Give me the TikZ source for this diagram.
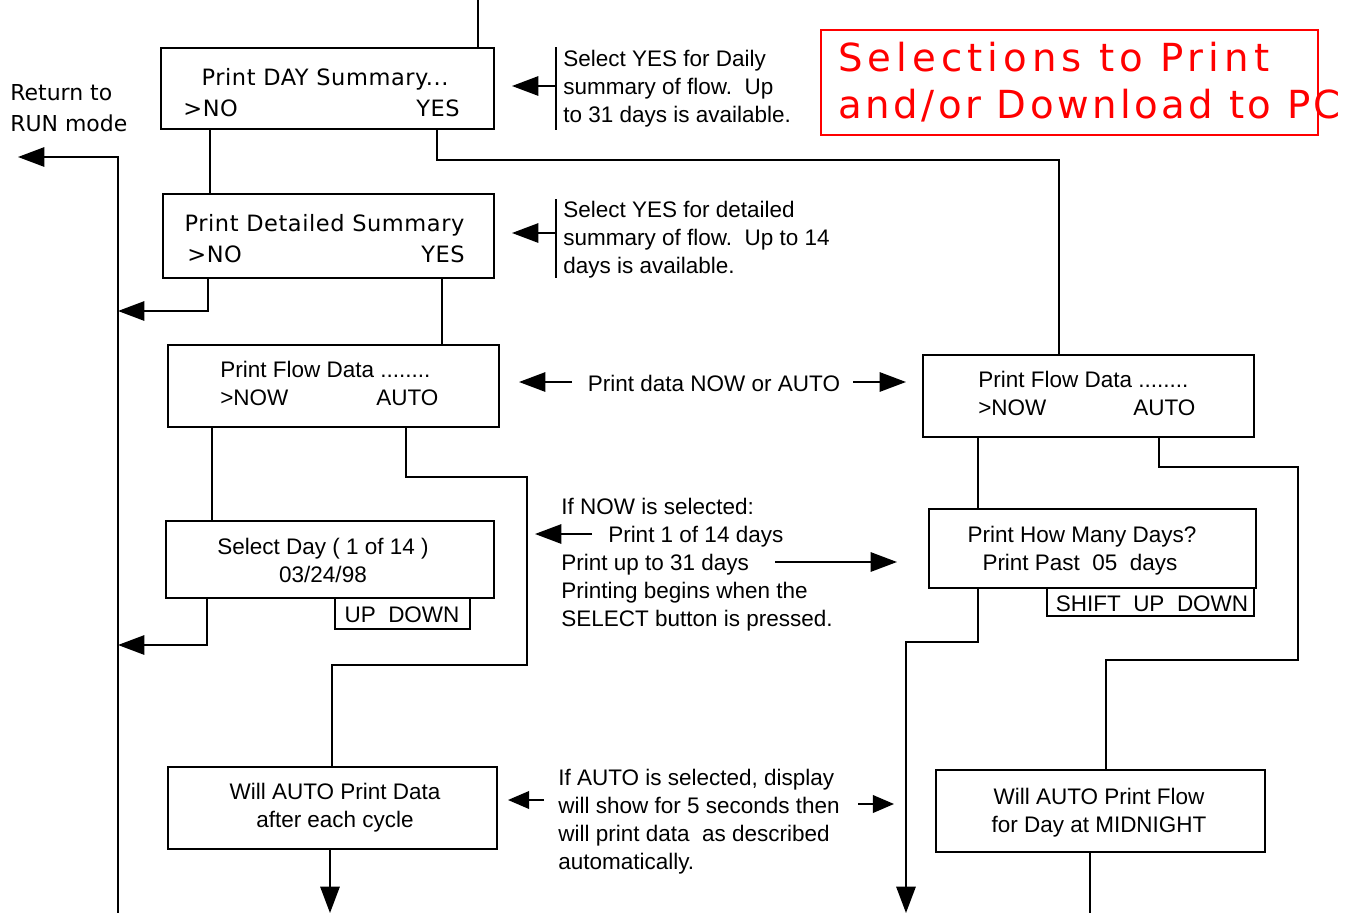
\documentclass[tikz,border=0pt]{standalone}
\usepackage{fontspec}
\usetikzlibrary{arrows.meta}
\newfontfamily\verfont[LetterSpace=2.5]{DejaVu Sans}
\newfontfamily\retfont{DejaVu Sans}
\newfontfamily\arifont{Liberation Sans}
\newfontfamily\redfontA[LetterSpace=13]{DejaVu Sans}
\newfontfamily\redfontB[LetterSpace=9]{DejaVu Sans}
\begin{document}
\begin{tikzpicture}[x=0.02cm,y=-0.02cm,
  box/.style={draw, line width=1.1pt, inner sep=0pt, anchor=center},
  con/.style={line width=1.1pt},
  arr/.style={con, -{Triangle[length=15pt,width=11pt]}},
  sarr/.style={con, -{Triangle[length=12pt,width=10pt]}},
  brk/.style={line width=0.6pt},
  vt/.style={font={\verfont\fontsize{12.8}{16}\selectfont}, inner sep=0pt},
  atxt/.style={font={\arifont\fontsize{12.8}{15.9}\selectfont}, inner sep=0pt},
  note/.style={atxt, align=left, anchor=north west},
  redtxt/.style={anchor=base west, inner sep=0pt, text=red}]
\useasboundingbox (0,0) rectangle (1350,913);

% boxes
\node[box, minimum width=6.66cm, minimum height=1.62cm] (b1) at (327.5,88.5) {};
\node[box, minimum width=6.62cm, minimum height=1.68cm] (b2) at (328.5,236) {};
\node[box, minimum width=6.62cm, minimum height=1.64cm] (b3) at (333.5,386) {};
\node[box, minimum width=6.56cm, minimum height=1.54cm] (b4) at (330,559.5) {};
\node[box, minimum width=2.70cm, minimum height=0.62cm] (b4s) at (402.5,613.5) {};
\node[box, minimum width=6.58cm, minimum height=1.64cm] (b5) at (332.5,808) {};
\node[box, minimum width=6.62cm, minimum height=1.64cm] (b6) at (1088.5,396) {};
\node[box, minimum width=6.54cm, minimum height=1.58cm] (b7) at (1092.5,548.5) {};
\node[box, minimum width=4.14cm, minimum height=0.56cm] (b7s) at (1150.5,602) {};
\node[box, minimum width=6.58cm, minimum height=1.64cm] (b8) at (1100.5,811) {};
\node[draw=red, line width=1.3pt, minimum width=9.94cm, minimum height=2.1cm, inner sep=0pt] (red) at (1069.5,82.5) {};

% box texts
\node[vt, anchor=base] (b1t) at (325,85) {Print DAY Summary...};
\node[vt, anchor=base west] (b1no) at (183,116) {>NO};
\node[vt, anchor=base east] (b1yes) at (460,116) {YES};
\node[vt, anchor=base] (b2t) at (324.5,231) {Print Detailed Summary};
\node[vt, anchor=base west] (b2no) at (187,262) {>NO};
\node[vt, anchor=base east] (b2yes) at (465,262) {YES};
\node[atxt, anchor=base west] (b3t) at (220,377) {Print Flow Data ........};
\node[atxt, anchor=base west] (b3now) at (220,405) {>NOW};
\node[atxt, anchor=base west] (b3auto) at (376,405) {AUTO};
\node[atxt, anchor=base] (b4t) at (323,554) {Select Day ( 1 of 14 )};
\node[atxt, anchor=base] (b4d) at (323,582) {03/24/98};
\node[atxt, anchor=base] (b4k) at (402,622) {UP\ \ DOWN};
\node[atxt, anchor=base] (b5t) at (335,799) {Will AUTO Print Data};
\node[atxt, anchor=base] (b5u) at (335,827) {after each cycle};
\node[atxt, anchor=base west] (b6t) at (978,387) {Print Flow Data ........};
\node[atxt, anchor=base west] (b6now) at (978,415) {>NOW};
\node[atxt, anchor=base west] (b6auto) at (1133,415) {AUTO};
\node[atxt, anchor=base] (b7t) at (1082,542) {Print How Many Days?};
\node[atxt, anchor=base] (b7u) at (1080,570) {Print Past\ \ 05\ \ days};
\node[atxt, anchor=base] (b7k) at (1152,611) {SHIFT\ \ UP\ \ DOWN};
\node[atxt, anchor=base] (b8t) at (1099,804) {Will AUTO Print Flow};
\node[atxt, anchor=base] (b8u) at (1099,832) {for Day at MIDNIGHT};

% title and notes
\node[redtxt, font={\redfontA\fontsize{22}{27}\selectfont}] (title1) at (838,71) {Selections to Print};
\node[redtxt, font={\redfontB\fontsize{22}{27}\selectfont}] (title2) at (838,118) {and/or Download to PC};
\node[align=left, anchor=north west, inner sep=0pt, font={\retfont\fontsize{12.5}{17.6}\selectfont}] (ret) at (10,84) {Return to\\RUN mode};
\node[note] (n1) at (563,50) {Select YES for Daily\\summary of flow.\ \ Up\\to 31 days is available.};
\node[note] (n2) at (563,201) {Select YES for detailed\\summary of flow.\ \ Up to 14\\days is available.};
\node[atxt, anchor=base] (n3) at (714,391) {Print data NOW or AUTO};
\node[note] (n4) at (561,498) {If NOW is selected:\\\hspace*{26.7pt}Print 1 of 14 days\\Print up to 31 days\\Printing begins when the\\SELECT button is pressed.};
\node[note] (n5) at (558,769) {If AUTO is selected, display\\will show for 5 seconds then\\will print data\ \ as described\\automatically.};

% coordinates
\coordinate (top) at (478,0);
\coordinate (retend) at (18,157);
\coordinate (retcorner) at (118,157);
\coordinate (retbot) at (118,913);
\coordinate (x210) at (210,0);
\coordinate (x437) at (437,0);
\coordinate (t1) at (1059,160);
\coordinate (x208) at (208,0);
\coordinate (j1) at (118,311);
\coordinate (x442) at (442,0);
\coordinate (x212) at (212,0);
\coordinate (x406) at (406,0);
\coordinate (c2) at (527,477);
\coordinate (c3) at (332,665);
\coordinate (x207) at (207,0);
\coordinate (j2) at (118,645);
\coordinate (d1) at (330,913);
\coordinate (x978) at (978,0);
\coordinate (x1159) at (1159,0);
\coordinate (c4) at (1298,467);
\coordinate (c5) at (1106,660);
\coordinate (c6) at (906,642);
\coordinate (d2) at (906,913);
\coordinate (d3) at (1090,913);

% connectors
\draw[con] (b1.north -| top) -- (top);
\draw[arr] (retbot) -- (retcorner) -- (retend);
\draw[con] (b1.south -| x210) -- (b2.north -| x210);
\draw[con] (b1.south -| x437) |- (t1) -- (b6.north -| t1);
\draw[arr] (b2.south -| x208) |- (j1);
\draw[con] (b2.south -| x442) -- (b3.north -| x442);
\draw[con] (b3.south -| x212) -- (b4.north -| x212);
\draw[con] (b3.south -| x406) |- (c2) |- (c3) -- (b5.north -| c3);
\draw[arr] (b4.south -| x207) |- (j2);
\draw[arr] (b5.south -| d1) -- (d1);
\draw[con] (b6.south -| x978) -- (b7.north -| x978);
\draw[con] (b6.south -| x1159) |- (c4) |- (c5) -- (b8.north -| c5);
\draw[arr] (b7.south -| x978) |- (c6) -- (d2);
\draw[con] (b8.south -| d3) -- (d3);

% note arrows
\coordinate (br1t) at (556,47);
\coordinate (br1b) at (556,130);
\coordinate (br1m) at (556,86);
\coordinate (tip1) at (512,86);
\coordinate (br2t) at (556,199);
\coordinate (br2b) at (556,278);
\coordinate (br2m) at (556,233);
\coordinate (tip2) at (512,233);
\draw[brk] (br1t) -- (br1b);
\draw[arr] (br1m) -- (tip1);
\draw[brk] (br2t) -- (br2b);
\draw[arr] (br2m) -- (tip2);
\coordinate (p1s) at (572,382);
\coordinate (p1e) at (519,382);
\coordinate (p2s) at (853,382);
\coordinate (p2e) at (906,382);
\draw[arr] (p1s) -- (p1e);
\draw[arr] (p2s) -- (p2e);
\coordinate (q1s) at (592,534);
\coordinate (q1e) at (535,534);
\coordinate (q2s) at (775,562);
\coordinate (q2e) at (897,562);
\draw[arr] (q1s) -- (q1e);
\draw[arr] (q2s) -- (q2e);
\coordinate (r1s) at (544,800);
\coordinate (r1e) at (508,800);
\coordinate (r2s) at (858,804);
\coordinate (r2e) at (894,804);
\draw[sarr] (r1s) -- (r1e);
\draw[sarr] (r2s) -- (r2e);
\end{tikzpicture}
\end{document}
